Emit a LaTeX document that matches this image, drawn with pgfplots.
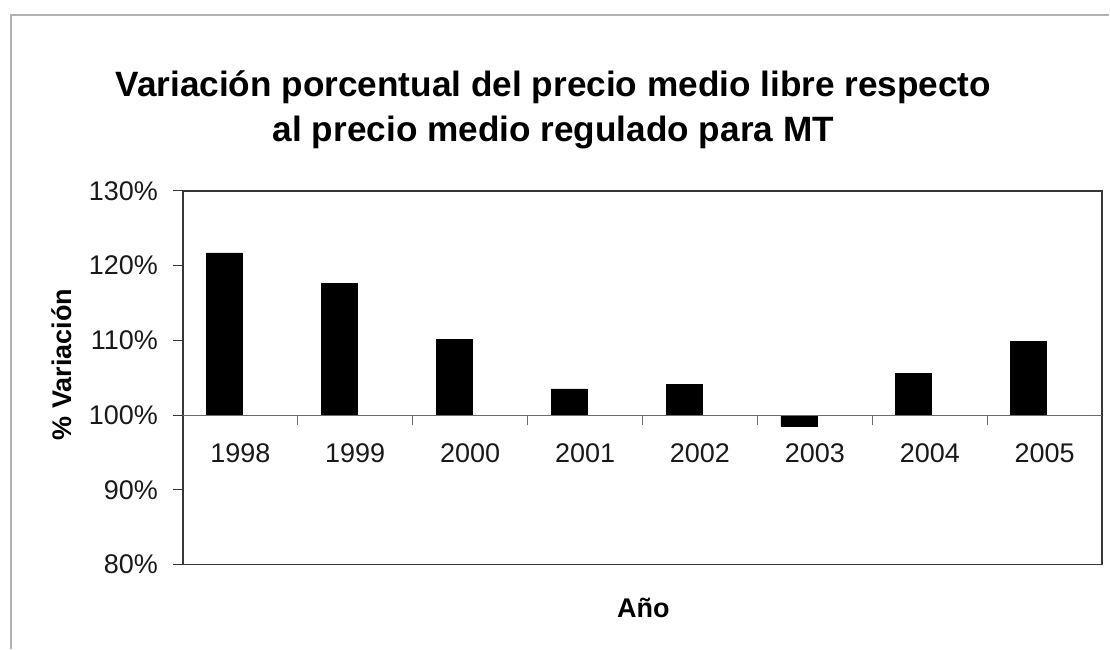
\documentclass[border=0pt]{standalone}
\usepackage{fontspec}
\setmainfont{Liberation Sans}
\usepackage{pgfplots}
\pgfplotsset{compat=1.18}
\definecolor{axisgray}{HTML}{3A3536}
\definecolor{midgray}{HTML}{6E6A6B}
\begin{document}
\begin{tikzpicture}
\path (0,0) rectangle (555pt,324.5pt);
\draw[gray!60, line width=0.8pt] (5.5pt,0) -- (5.5pt,317pt) -- (555pt,317pt);
\begin{axis}[
  at={(91.5pt,42pt)}, anchor=south west,
  scale only axis, width=460pt, height=187pt,
  xmin=-0.5, xmax=7.5, ymin=-20, ymax=30,
  ytick={-20,-10,...,30},
  yticklabels={80\%,90\%,100\%,110\%,120\%,130\%},
  xtick=\empty,
  ytick pos=left, tick align=outside, major tick length=5pt,
  axis line style={axisgray, line width=0.9pt},
  tick style={axisgray, line width=0.6pt},
  ticklabel style={font=\fontsize{13.5}{15}\selectfont, text=black!90},
  yticklabel style={xshift=-4pt},
  y filter/.expression={y-100},
  ybar, bar width=18pt, bar shift=-8pt,
  ylabel={\% Variación}, xlabel={Año},
  label style={font=\bfseries\fontsize{13.5}{15}\selectfont},
  ylabel style={at={(axis description cs:-0.1315,0.535)}, anchor=center},
  xlabel style={at={(axis description cs:0.501,-0.115)}, anchor=center},
  title={Variación porcentual del precio medio libre respecto\\al precio medio regulado para MT},
  title style={at={(axis description cs:0.403,1.185)}, anchor=center,
    align=center, font=\bfseries\fontsize{17.6}{22.5}\selectfont},
]
\addplot[fill=black, draw=black] coordinates {
  (0,121.7) (1,117.6) (2,110.1) (3,103.5) (4,104.1) (5,98.5) (6,105.6) (7,109.8)
};
\end{axis}
\begin{axis}[
  at={(91.5pt,42pt)}, anchor=south west,
  scale only axis, width=460pt, height=187pt,
  xmin=-0.5, xmax=7.5, ymin=-20, ymax=30,
  axis x line*=middle, axis y line=none,
  axis line style={midgray, line width=0.6pt},
  xtick={0,...,7},
  xticklabels={1998,1999,2000,2001,2002,2003,2004,2005},
  major x tick style={draw=none},
  minor xtick={0.5,1.5,...,6.5},
  minor tick length=5pt, tick align=outside,
  minor tick style={midgray, line width=0.6pt},
  xticklabel style={font=\fontsize{13.5}{15}\selectfont, text=black!90, yshift=-6.5pt},
]
\addplot[draw=none] coordinates {(0,0)};
\end{axis}
\end{tikzpicture}
\end{document}
